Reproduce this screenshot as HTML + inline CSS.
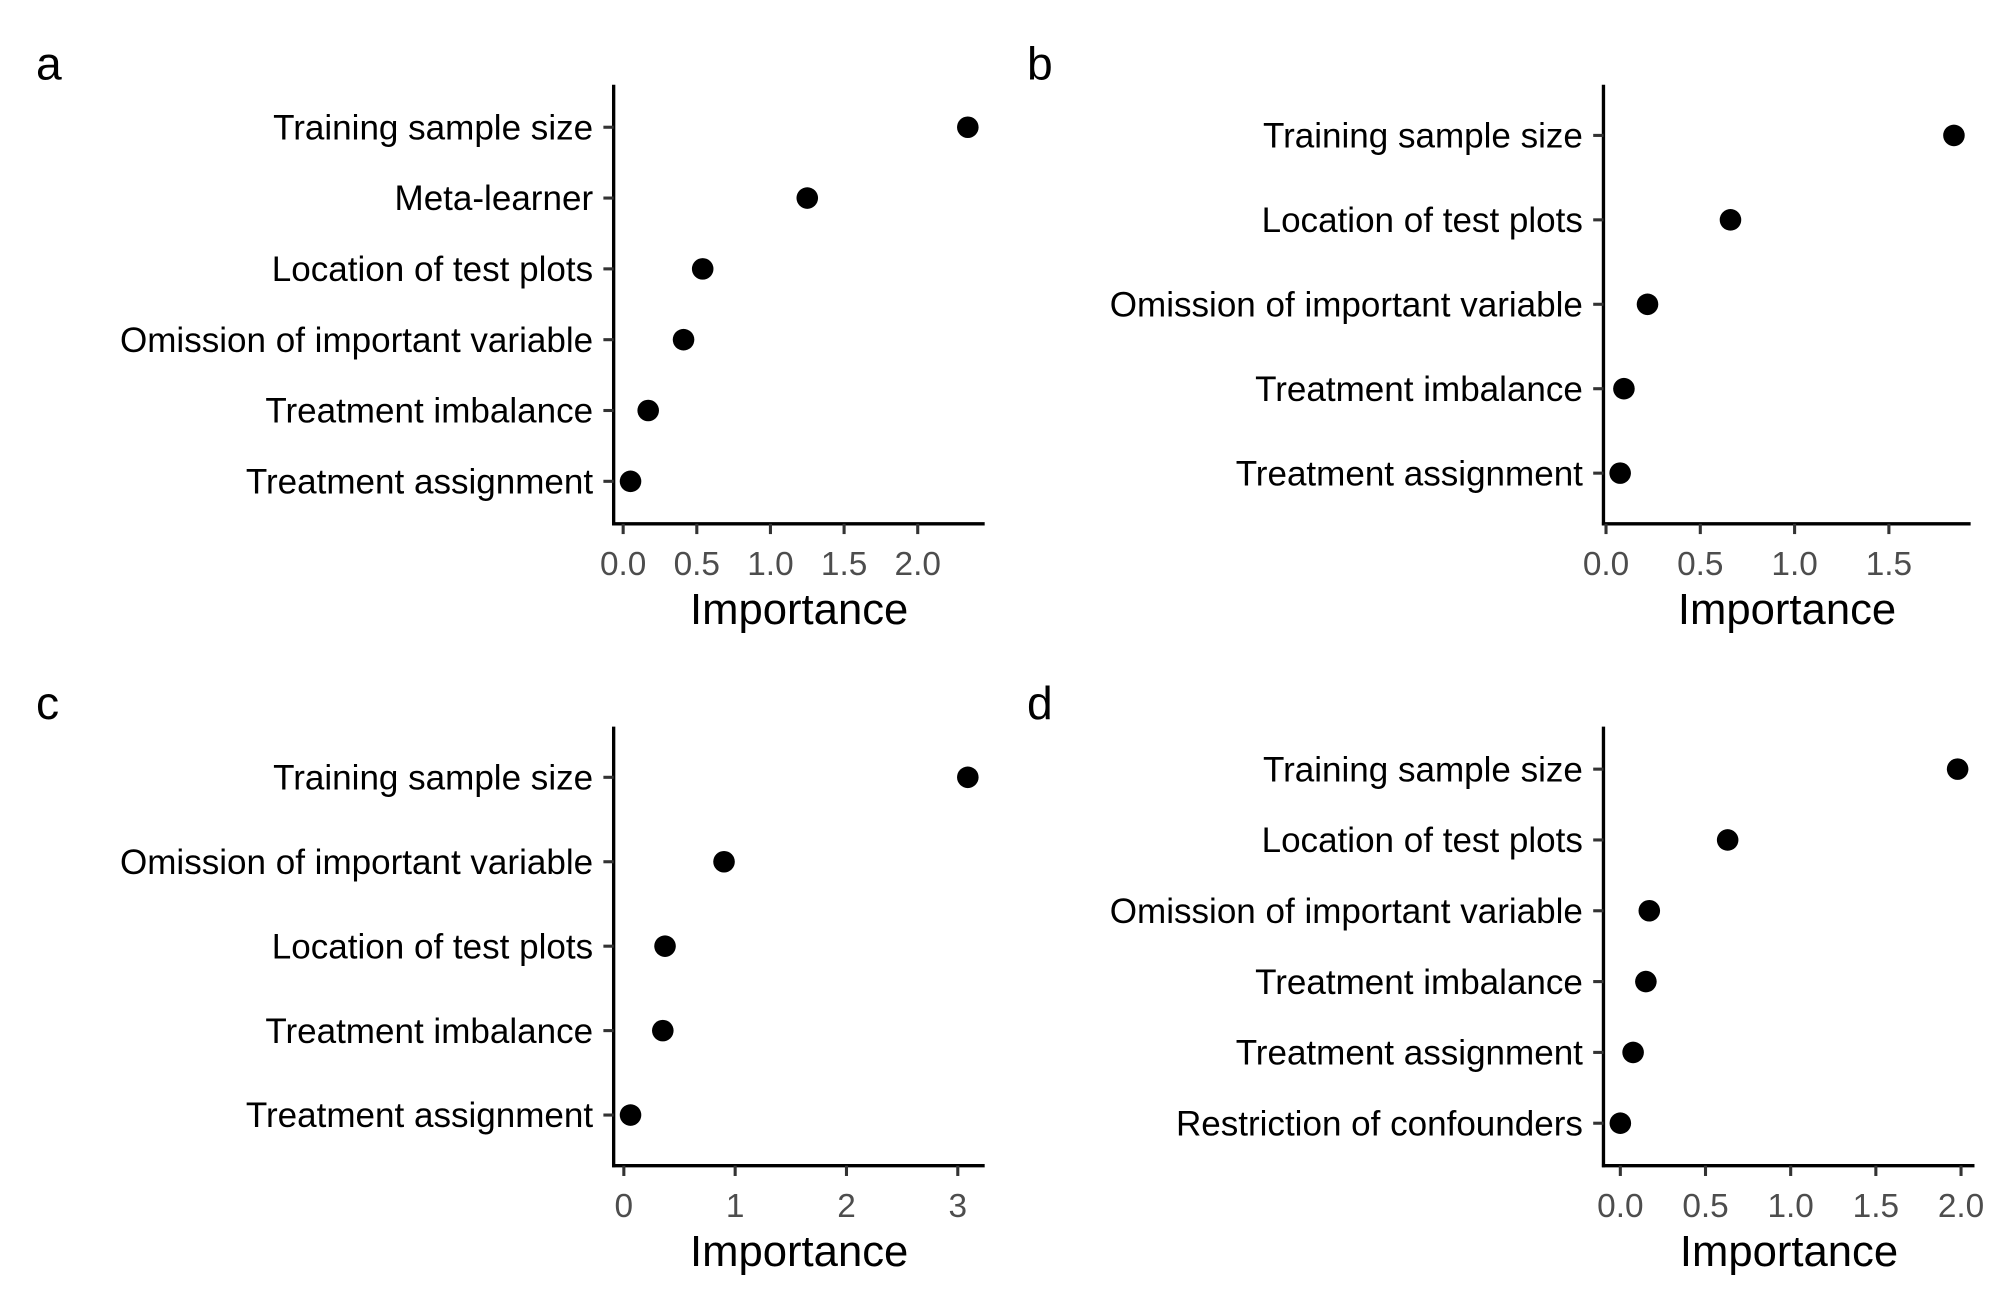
<!DOCTYPE html>
<html><head><meta charset="utf-8"><style>
html,body{margin:0;padding:0;background:#fff;}
svg{display:block;font-family:"Liberation Sans",Arial,sans-serif;}
</style></head><body>
<svg id="fig" width="2013" height="1309" viewBox="0 0 1568 1019.6" xmlns="http://www.w3.org/2000/svg"></svg>
<script>
// Panel a
const catsA = ["Training sample size","Meta-learner","Location of test plots","Omission of important variable","Treatment imbalance","Treatment assignment"];
const valsA = [2.34,1.25,0.54,0.41,0.17,0.05];
const ticksA = [0,0.5,1.0,1.5,2.0];
const tickLabA = ["0.0","0.5","1.0","1.5","2.0"];
// Panel b
const catsB = ["Training sample size","Location of test plots","Omission of important variable","Treatment imbalance","Treatment assignment"];
const valsB = [1.845,0.66,0.22,0.095,0.075];
const ticksB = [0,0.5,1.0,1.5];
const tickLabB = ["0.0","0.5","1.0","1.5"];
// Panel c
const catsC = ["Training sample size","Omission of important variable","Location of test plots","Treatment imbalance","Treatment assignment"];
const valsC = [3.09,0.90,0.37,0.35,0.06];
const ticksC = [0,1,2,3];
const tickLabC = ["0","1","2","3"];
// Panel d
const catsD = ["Training sample size","Location of test plots","Omission of important variable","Treatment imbalance","Treatment assignment","Restriction of confounders"];
const valsD = [1.98,0.63,0.17,0.15,0.075,0.0];
const ticksD = [0,0.5,1.0,1.5,2.0];
const tickLabD = ["0.0","0.5","1.0","1.5","2.0"];

const NS="http://www.w3.org/2000/svg";
const svg=document.getElementById('fig');
function mk(tag,attrs,parent,text){const e=document.createElementNS(NS,tag);for(const k in attrs)e.setAttribute(k,attrs[k]);if(text!==undefined)e.textContent=text;parent.appendChild(e);return e;}

function panel(letter,cats,vals,ticks,tickLabs,L,R,T,B,lx,ly){
  const g=mk('g',{},svg);
  
  
  const mn=Math.min(...vals), mx=Math.max(...vals);
  const span=mx-mn;
  const d0=mn-span*0.05, d1=mx+span*0.05;
  const x=v=>L+(v-d0)/(d1-d0)*(R-L);
  const n=cats.length;
  const y=i=>T+(B-T)*(i+0.6)/(n+0.2);
  const let_=mk('text',{x:lx,y:ly,'font-size':36,fill:'#000'},g,letter);
  
  
  const ya=mk('line',{x1:L,y1:T,x2:L,y2:B+1.2,stroke:'#000','stroke-width':2.6},g);
  
  
  const xa=mk('line',{x1:L-1.2,y1:B,x2:R,y2:B,stroke:'#000','stroke-width':2.6},g);
  
  
  cats.forEach((c,i)=>{
    const yy=y(i);
    const tk=mk('line',{x1:L-8,y1:yy,x2:L,y2:yy,stroke:'#333','stroke-width':2.4},g);
    
    
    const t=mk('text',{x:L-16,y:yy+9.5,'font-size':27.3,'text-anchor':'end',fill:'#000'},g,c);
    
    
    const p=mk('circle',{cx:x(vals[i]),cy:yy,r:8.4,fill:'#000'},g);
    
    
  });
  ticks.forEach((v,i)=>{
    const xx=x(v);
    const tk=mk('line',{x1:xx,y1:B,x2:xx,y2:B+8,stroke:'#333','stroke-width':2.4},g);
    
    
    const t=mk('text',{x:xx,y:B+40,'font-size':26,'text-anchor':'middle',fill:'#4d4d4d'},g,tickLabs[i]);
    
    
  });
  const xt=mk('text',{x:(L+R)/2,y:B+78,'font-size':34,'text-anchor':'middle',fill:'#000'},g,'Importance');
  
  
}
panel('a',catsA,valsA,ticksA,tickLabA,478,767,66,408,28,62);
panel('b',catsB,valsB,ticksB,tickLabB,1249,1535,66,408,800,62);
panel('c',catsC,valsC,ticksC,tickLabC,478,767,566,908,28,560);
panel('d',catsD,valsD,ticksD,tickLabD,1249,1538,566,908,800,560);
</script>
</body></html>
